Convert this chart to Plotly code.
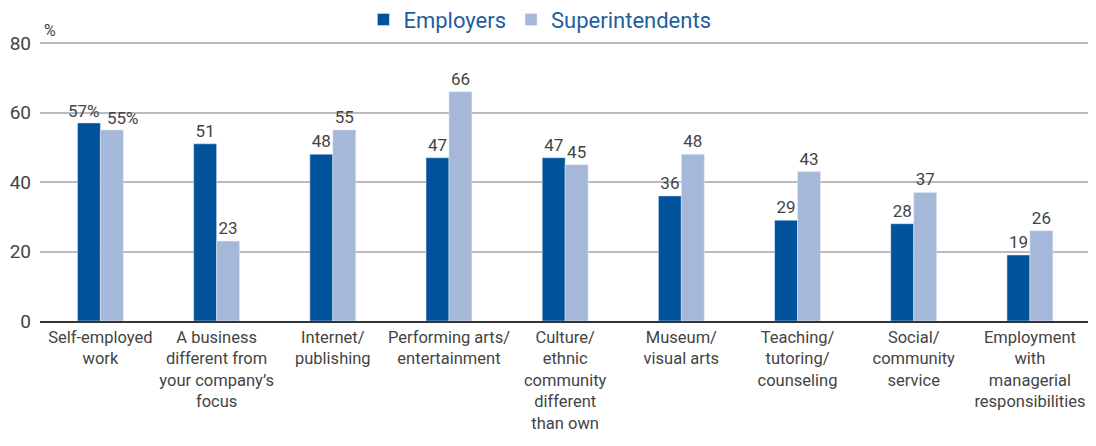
import plotly.graph_objects as go

categories = [
    "Self-employed<br>work",
    "A business<br>different from<br>your company’s<br>focus",
    "Internet/<br>publishing",
    "Performing arts/<br>entertainment",
    "Culture/<br>ethnic<br>community<br>different<br>than own",
    "Museum/<br>visual arts",
    "Teaching/<br>tutoring/<br>counseling",
    "Social/<br>community<br>service",
    "Employment<br>with<br>managerial<br>responsibilities",
]
employers = [57, 51, 48, 47, 47, 36, 29, 28, 19]
superintendents = [55, 23, 55, 66, 45, 48, 43, 37, 26]

# first group gets "%" labels placed by hand (they would collide otherwise)
emp_text = ["" if i == 0 else str(v) for i, v in enumerate(employers)]
sup_text = ["" if i == 0 else str(v) for i, v in enumerate(superintendents)]

font = "Roboto, Arial, sans-serif"
label_font = dict(size=17, color="#444")

fig = go.Figure()
fig.add_trace(go.Bar(x=categories, y=employers, name="Employers",
                     marker_color="#00539B", text=emp_text,
                     textposition="outside", cliponaxis=False,
                     textfont=label_font))
fig.add_trace(go.Bar(x=categories, y=superintendents, name="Superintendents",
                     marker_color="#A6B8DA", text=sup_text,
                     textposition="outside", cliponaxis=False,
                     textfont=label_font))

annotations = [
    dict(text="%", x=0, y=1, xref="paper", yref="paper",
         xanchor="left", yanchor="bottom", showarrow=False,
         font=dict(size=16, color="#444"), xshift=2),
    dict(text=f"{employers[0]}%", x=categories[0], y=employers[0], showarrow=False,
         xanchor="center", yanchor="bottom", xshift=-16, yshift=0, font=label_font),
    dict(text=f"{superintendents[0]}%", x=categories[0], y=superintendents[0], showarrow=False,
         xanchor="center", yanchor="bottom", xshift=23, yshift=0, font=label_font),
]

# page body adds an 8px offset, so the figure is drawn a bit smaller
fig.update_layout(
    width=1088, height=438,
    margin=dict(l=32, r=8, t=34, b=125, autoexpand=False),
    barmode="group", bargap=0.605, bargroupgap=0,
    plot_bgcolor="white", paper_bgcolor="white",
    font=dict(family=font, size=16, color="#444"),
    uniformtext=dict(minsize=14, mode="show"),
    legend=dict(orientation="h", x=0.477, xanchor="center", y=1.08, yanchor="middle",
                font=dict(size=22, color="#1F5E9E"), itemwidth=30,
                traceorder="normal"),
    xaxis=dict(showline=True, linecolor="#333", linewidth=2, ticks="", automargin=False,
               tickangle=0, range=[-0.52, 8.5], tickfont=dict(size=16.5, color="#444")),
    yaxis=dict(range=[0, 80.3], tickvals=[0, 20, 40, 60, 80], showgrid=True,
               gridcolor="#BBBBBB", automargin=False, ticklabelstandoff=8,
               gridwidth=2, zeroline=False, ticks="", tickfont=dict(size=19, color="#444")),
    annotations=annotations,
)

fig.write_html("out.html")
